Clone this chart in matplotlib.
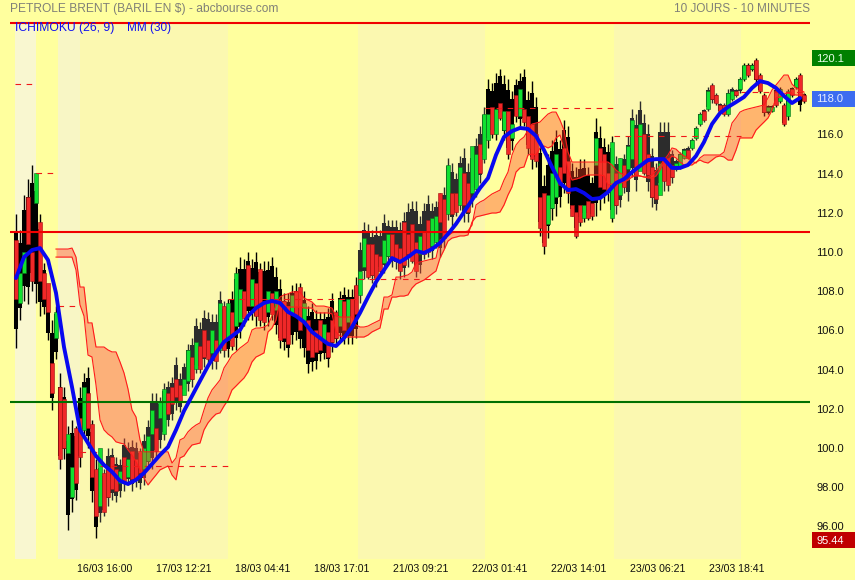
# Petrole Brent chart, 10 jours / 10 minutes, with ichimoku cloud and moving average
import numpy as np
import matplotlib
matplotlib.use("Agg")
import matplotlib.pyplot as plt
from matplotlib.patches import Rectangle

highs = [
    111.9,111.1,112.9,113.7,114.4,114.0,111.9,109.4,107.9,106.5,
    107.2,103.8,103.1,101.1,101.4,101.1,103.1,103.8,104.1,101.4,
    99.4,99.4,98.9,100.0,100.0,99.5,99.4,100.5,100.3,100.4,
    100.3,100.0,100.7,101.4,102.8,102.8,102.6,103.3,103.4,103.6,
    104.6,103.8,104.3,105.3,105.6,106.6,106.4,107.0,106.9,106.8,
    106.8,108.0,107.5,107.6,108.0,109.2,109.7,109.6,110.0,109.6,
    110.0,109.4,109.5,109.5,109.7,109.2,108.6,107.9,107.9,108.3,
    108.4,108.4,108.0,107.2,107.4,107.0,106.9,106.9,107.1,107.9,
    107.0,108.0,108.2,108.1,108.1,108.7,110.5,111.5,111.4,111.1,
    111.3,111.1,111.9,111.6,111.6,111.6,111.5,112.0,112.5,112.6,
    112.6,111.8,112.5,112.9,112.5,112.6,113.0,113.3,114.8,114.5,
    114.0,114.9,115.3,114.5,115.2,115.8,116.4,117.4,118.8,118.6,
    119.1,119.3,119.0,118.8,118.2,118.8,119.1,119.3,118.2,118.7,
    117.9,115.7,113.9,115.0,115.7,116.2,115.7,116.7,116.4,114.5,
    114.3,114.7,114.7,114.3,113.8,116.8,116.4,115.8,115.5,115.9,
    114.9,114.8,115.0,115.9,117.3,117.0,117.7,117.0,116.5,115.3,
    114.5,116.6,116.6,116.6,115.2,114.7,115.1,115.3,115.4,115.8,
    116.4,117.1,117.3,118.4,118.6,118.1,117.6,117.6,118.3,118.4,
    118.3,118.9,119.6,119.6,119.6,119.9,119.1,118.1,117.5,117.5,
    118.4,118.4,117.6,118.3,118.4,118.9,119.1,118.1,
]
lows = [
    105.1,106.5,107.5,107.3,108.0,107.4,106.7,106.8,105.5,101.9,
    104.5,98.9,99.4,95.8,96.7,97.3,99.0,100.5,100.0,97.2,
    95.4,96.2,96.5,97.0,97.3,97.2,97.5,97.8,98.1,97.8,
    98.0,97.9,98.1,98.9,98.9,99.4,100.0,100.4,101.1,101.4,
    101.9,101.8,102.8,102.9,103.1,103.8,103.8,104.1,104.3,104.0,
    104.0,104.8,104.6,104.6,105.0,105.0,105.6,106.2,106.5,106.5,
    106.2,106.2,106.0,106.2,106.5,105.8,105.1,105.0,104.6,105.3,
    105.5,105.1,104.6,103.8,103.9,104.0,104.4,104.5,104.1,104.9,
    105.3,105.5,105.3,105.3,105.3,105.6,107.4,108.6,108.6,108.4,
    108.2,108.9,108.9,109.4,109.2,109.1,108.6,108.7,109.2,109.4,
    108.7,108.9,109.6,109.7,109.6,110.2,109.7,110.2,111.6,111.3,
    111.8,112.1,111.5,111.5,112.3,112.8,113.5,114.5,115.3,115.8,
    115.7,116.7,115.7,114.7,115.2,116.6,116.4,116.4,115.0,114.2,
    114.3,110.8,109.9,110.7,111.6,111.8,112.3,113.0,112.5,111.8,
    110.7,111.3,111.5,111.6,111.6,111.8,112.1,112.5,112.6,111.5,
    111.9,112.3,113.0,112.6,113.8,113.1,114.2,113.9,113.1,112.3,
    112.1,113.0,113.1,113.1,113.5,114.1,114.2,114.7,114.7,115.2,
    115.7,116.4,116.6,117.2,117.6,117.5,117.1,116.9,116.9,117.7,
    117.9,118.1,118.7,118.9,119.2,118.6,118.1,116.9,117.0,117.1,
    117.4,117.6,116.4,116.7,117.9,118.3,117.2,117.6,
]
opens = [
    110.6,107.4,108.9,112.8,110.0,112.5,111.5,108.9,108.4,104.3,
    105.6,103.1,102.5,99.7,97.5,101.0,101.5,100.9,102.8,101.2,
    98.9,97.0,98.7,99.0,99.5,98.9,98.2,99.5,98.5,99.8,
    99.4,99.8,98.9,99.3,100.7,101.0,101.5,100.7,102.8,103.1,
    103.5,103.2,102.7,103.4,104.6,104.0,105.2,106.0,105.5,104.8,
    105.5,105.0,107.2,105.5,106.9,106.2,106.4,108.0,109.3,107.2,
    108.4,109.1,107.5,106.9,107.9,107.0,107.5,107.5,107.2,106.8,
    108.0,108.2,106.4,106.5,105.9,106.0,106.5,105.5,105.9,106.5,
    106.9,106.2,107.5,106.4,107.6,108.3,107.8,109.2,110.4,110.4,
    109.9,109.8,109.4,109.8,110.9,110.4,110.2,111.5,110.9,111.4,
    110.5,109.9,111.0,111.6,110.3,110.5,113.0,112.7,111.9,113.0,
    113.0,112.4,114.0,113.5,113.0,113.2,115.5,114.7,115.7,117.4,
    116.0,117.6,116.2,117.2,115.8,118.0,116.9,117.3,116.9,116.5,
    116.0,112.8,113.0,111.4,112.2,112.8,114.3,115.3,114.6,112.4,
    112.0,112.4,111.7,112.6,112.5,114.4,115.3,115.0,114.0,111.7,
    114.0,112.9,114.4,114.2,114.7,116.3,114.1,116.0,115.0,114.3,
    113.4,112.9,114.8,114.8,114.4,114.2,114.3,114.8,115.2,115.3,
    115.8,116.5,117.2,117.3,118.5,118.0,117.5,117.5,117.0,117.8,
    118.2,118.3,118.8,119.5,119.3,119.8,119.0,118.0,117.2,117.2,
    118.2,117.7,117.5,116.9,118.3,118.4,119.0,118.0,
]
closes = [
    107.6,108.9,110.0,110.4,108.5,114.0,108.5,107.6,106.9,102.8,
    106.9,99.4,100.0,100.7,99.0,98.2,99.5,103.1,101.0,98.5,
    96.5,100.0,96.7,97.5,97.9,97.8,98.8,98.3,99.4,98.4,
    98.4,98.7,100.0,100.6,101.9,99.8,102.3,103.0,101.7,102.2,
    102.6,102.4,103.5,105.0,103.5,105.4,104.0,104.6,104.5,106.0,
    104.4,107.4,105.0,107.4,105.2,108.9,108.1,106.6,107.2,108.6,
    106.7,106.5,106.4,108.0,106.8,108.0,105.5,105.6,105.3,107.8,
    106.7,106.0,107.4,105.0,104.6,104.9,105.0,106.3,104.6,105.4,
    105.6,107.6,106.0,107.6,106.2,106.8,109.0,110.7,108.7,108.8,
    108.6,109.0,110.6,110.9,109.6,109.5,109.0,109.3,109.9,109.5,
    109.0,110.8,109.9,110.0,111.7,111.8,111.5,110.7,114.4,111.9,
    112.0,114.3,112.4,112.0,115.4,115.0,114.0,117.0,117.0,116.0,
    117.3,116.8,117.2,115.0,116.5,116.9,118.3,116.6,115.3,114.7,
    114.6,111.2,110.3,112.9,114.0,115.0,113.4,114.0,113.0,111.8,
    110.8,111.5,112.4,111.7,111.8,115.8,113.3,113.2,113.1,115.6,
    112.4,114.8,113.3,115.4,116.7,113.9,116.5,114.0,113.9,112.8,
    112.7,114.5,113.6,113.4,113.8,114.5,115.0,115.2,114.8,115.7,
    116.3,117.0,116.7,118.2,117.8,117.6,117.2,117.0,118.1,118.2,
    118.0,118.8,119.5,119.0,119.5,118.8,118.2,117.1,117.4,117.4,
    117.5,118.3,116.5,118.2,118.0,118.8,117.9,117.7,
]

# moving average, one value every second bar
mm30 = [
    108.65,109.72,110.08,110.18,109.57,107.89,105.13,103.09,100.90,100.23,
    99.57,99.11,98.76,98.30,98.14,98.35,98.70,99.16,99.62,100.03,
    100.90,101.87,102.63,103.40,104.16,104.83,105.39,105.69,106.00,106.71,
    107.12,107.38,107.48,107.38,106.92,106.71,106.41,105.90,105.59,105.29,
    105.18,105.59,106.15,106.87,107.68,108.45,109.06,109.67,109.47,109.72,
    110.03,109.93,110.13,110.44,110.90,111.41,112.02,112.63,113.24,113.75,
    114.93,115.85,116.15,116.31,116.26,115.90,115.18,114.32,113.50,113.14,
    113.19,112.99,112.68,112.73,113.04,113.50,113.70,114.06,114.37,114.67,
    114.72,114.72,114.27,114.27,114.42,114.88,115.59,116.51,117.07,117.38,
    117.63,117.89,118.35,118.70,118.60,118.35,117.94,117.58,117.84,
]

# cloud edges start at bar 10
cloud_up = [
    110.13,110.13,110.13,110.13,110.18,109.72,108.19,108.19,106.36,106.36,
    105.13,105.13,105.13,104.98,104.88,104.88,104.37,103.81,102.99,101.92,
    101.56,100.39,99.78,99.78,99.78,99.78,99.78,99.78,99.78,99.21,
    99.47,100.39,100.49,100.80,101.00,101.15,101.26,101.92,102.53,102.94,
    103.19,103.45,104.06,104.37,104.72,104.88,105.08,105.23,105.39,106.00,
    106.10,106.10,106.15,106.26,106.71,107.28,107.68,107.79,107.84,107.94,
    107.94,107.94,107.63,107.53,107.43,107.22,107.22,107.22,107.17,107.12,
    106.71,106.66,106.66,106.66,106.66,106.26,106.15,106.15,106.20,106.31,
    106.41,106.51,107.68,107.68,107.79,108.70,108.70,108.76,108.81,108.96,
    109.42,109.47,109.52,109.57,109.62,109.67,110.59,110.69,110.80,110.95,
    111.00,111.00,111.00,111.05,111.36,112.38,112.53,112.63,112.79,112.94,
    113.04,113.14,113.65,114.06,114.93,115.44,115.69,115.85,116.20,116.51,
    116.56,116.61,116.82,117.02,117.12,117.12,116.71,116.20,115.08,114.57,
    114.57,114.57,114.57,114.57,114.57,114.57,114.57,114.57,114.57,114.42,
    114.16,114.01,113.91,113.86,113.86,113.86,113.86,113.81,113.81,113.91,
    114.11,114.37,114.67,114.93,115.29,115.23,115.03,114.88,114.78,114.62,
    114.52,114.78,114.93,114.93,114.93,114.93,114.93,115.08,115.80,116.56,
    116.82,117.12,117.22,117.28,117.33,117.38,117.43,117.48,117.84,118.25,
    118.50,118.75,119.01,119.01,118.55,118.35,118.25,118.14,
]
cloud_down = [
    109.72,109.72,109.72,109.72,109.72,109.06,107.28,106.71,104.72,104.62,
    103.19,101.41,100.90,100.69,100.54,100.29,100.23,100.18,99.88,99.62,
    99.27,98.86,98.45,98.09,98.35,98.60,98.86,98.96,99.06,98.60,
    98.35,99.47,99.57,99.88,100.13,100.18,100.23,100.90,101.26,101.51,
    101.71,101.77,102.12,102.43,102.94,103.14,103.35,103.55,103.86,104.37,
    104.62,104.72,104.83,105.90,106.10,106.51,107.53,107.22,107.17,107.17,
    107.17,107.17,107.12,107.12,107.12,106.87,106.87,106.87,106.87,106.82,
    105.90,105.69,105.64,105.64,105.64,105.64,105.64,105.64,105.74,105.90,
    106.00,106.10,107.07,107.07,107.68,107.68,107.73,107.73,107.79,108.14,
    108.35,108.45,108.55,108.70,108.86,109.01,109.67,110.08,110.54,110.69,
    110.74,110.80,110.80,110.85,111.51,111.77,111.82,111.87,111.92,111.97,
    111.97,112.02,112.38,112.89,113.30,114.06,114.27,114.32,114.93,114.98,
    114.93,115.29,115.39,115.29,115.39,115.80,115.95,115.29,114.16,113.65,
    113.70,113.76,113.86,113.91,113.91,113.91,113.91,113.86,113.40,113.45,
    113.45,113.50,113.55,113.65,113.81,113.91,113.86,113.81,113.76,113.76,
    113.86,114.16,114.57,114.67,114.88,114.78,114.57,114.42,114.42,114.42,
    114.57,114.67,114.57,114.52,114.67,114.83,114.88,114.83,114.67,114.67,
    115.18,115.80,115.80,115.80,115.80,116.20,116.41,116.61,116.82,117.22,
    117.84,117.89,118.04,118.09,118.04,117.99,117.99,117.99,
]

day_levels = [118.55, 114.0, 107.2, 99.78, 99.06, 107.6, 108.6, 117.33, 115.9, 118.14]
day_edges = [-0.25, 5, 10.5, 16, 21, 53, 85.5, 117.25, 149.5, 181.25, 197]
y_ticks = [96, 98, 100, 102, 104, 106, 108, 110, 112, 114, 116]
y_tick_labels = ["96.00", "98.00", "100.0", "102.0", "104.0", "106.0", "108.0", "110.0", "112.0", "114.0", "116.0"]
x_tick_labels = ["16/03 16:00", "17/03 12:21", "18/03 04:41", "18/03 17:01", "21/03 09:21",
                 "22/03 01:41", "22/03 14:01", "23/03 06:21", "23/03 18:41"]
x_tick_pos = [22.25, 42, 61.75, 81.5, 101.25, 121, 140.75, 160.5, 180.25]
resistance = [121.66, 111.0]
support = [102.33]

bg = "#ffff9e"
font = ["Liberation Sans", "DejaVu Sans"]

fig = plt.figure(figsize=(8.55, 5.8), dpi=100, facecolor=bg)
ax = fig.add_axes([0, 0, 1, 1], facecolor=bg)
ax.set_xlim(-4, 209.75)
ax.set_ylim(93.24, 122.84)
ax.axis("off")

# day bands
ax.axvspan(-0.25, 5, ymin=0.036, ymax=0.96, color="#f9f7d0", lw=0, zorder=0)
ax.axvspan(10.5, 16, ymin=0.036, ymax=0.96, color="#f8f6c5", lw=0, zorder=0)
ax.axvspan(16, 53, ymin=0.036, ymax=0.96, color="#fbf8b0", lw=0, zorder=0)
ax.axvspan(85.5, 117.25, ymin=0.036, ymax=0.96, color="#fbf8b0", lw=0, zorder=0)
ax.axvspan(149.5, 181.25, ymin=0.036, ymax=0.96, color="#fbf8b0", lw=0, zorder=0)

# candles, thin spike to the extreme and a thick part below it so the wicks merge
bars = np.arange(len(highs))
highs = np.array(highs)
lows = np.array(lows)
opens = np.array(opens)
closes = np.array(closes)
wick_col = []
for i in bars:
    if 21 <= i < 53 or 85.5 <= i < 117.25 or 149.5 <= i < 181.25:
        wick_col.append("#2c2c2c")
    else:
        wick_col.append("black")
trim = (highs - lows) * 0.14
ax.vlines(bars, lows, highs, colors=wick_col, lw=1.0, zorder=2)
ax.vlines(bars, lows + trim, highs - trim, colors=wick_col, lw=2.9, zorder=2)
body_col = ["#10e030" if c > o else "#f02828" for o, c in zip(opens, closes)]
edge_col = ["#0a6a1a" if c > o else "#a01010" for o, c in zip(opens, closes)]
ax.bar(bars, closes - opens, bottom=opens, width=0.86, color=body_col, edgecolor=edge_col, lw=0.4, zorder=3)

# cloud over candles
cloud_x = bars[10:]
ax.fill_between(cloud_x, cloud_down, cloud_up, color="#ff4628", alpha=0.4, lw=0, zorder=4)
ax.plot(cloud_x, cloud_up, color="#ff1a1a", lw=0.8, zorder=5)
ax.plot(cloud_x, cloud_down, color="#ff1a1a", lw=0.8, zorder=5)

# previous day levels
for k, lev in enumerate(day_levels):
    ax.plot([day_edges[k], day_edges[k + 1]], [lev, lev], color="#f01818", lw=0.8, dashes=(5, 5), zorder=5)

# horizontal lines
ax.hlines(resistance, -1.5, 198.5, colors="#f00000", lw=1.5, zorder=6)
ax.hlines(support, -1.5, 198.5, colors="#007000", lw=1.5, zorder=6)

# moving average
ax.plot(bars[::2], mm30, color="#0808f0", lw=2.8, solid_capstyle="round", zorder=7)

# axis labels
for t, lab in zip(y_ticks, y_tick_labels):
    ax.annotate(lab, (200, t), xytext=(0, -1), textcoords="offset points", fontsize=8.0, family=font, color="#101010", va="center", ha="left")
for p, lab in zip(x_tick_pos, x_tick_labels):
    fig.text((16 + 4 * p) / 855, 1 - 569 / 580, lab, fontsize=7.6, family=font, color="#101010", va="center", ha="center")

# value boxes on the right
for top, col, lab, txt_col in [(50, "#008000", "120.1", "#e8ffe8"), (91, "#3c6cf0", "118.0", "#e8eeff"), (532, "#c00000", "95.44", "white")]:
    fig.add_artist(Rectangle((812 / 855, 1 - (top + 16) / 580), 43 / 855, 16 / 580, transform=fig.transFigure, color=col, lw=0))
    fig.text(816 / 855, 1 - (top + 8.5) / 580, lab, fontsize=8.0, family=font, color=txt_col, va="center", ha="left")

# titles
fig.text(10 / 855, 1 - 9 / 580, "PETROLE BRENT (BARIL EN $) - abcbourse.com", fontsize=8.65, family=font, color="#808078", va="center")
fig.text(810 / 855, 1 - 9 / 580, "10 JOURS - 10 MINUTES", fontsize=8.5, family=font, color="#808078", va="center", ha="right")
fig.text(15 / 855, 1 - 28 / 580, "ICHIMOKU (26, 9)", fontsize=8.7, family=font, color="#1010f0", va="center")
fig.text(127 / 855, 1 - 28 / 580, "MM (30)", fontsize=8.5, family=font, color="#1010f0", va="center")

fig.savefig("out.png", dpi=100, facecolor=bg)
